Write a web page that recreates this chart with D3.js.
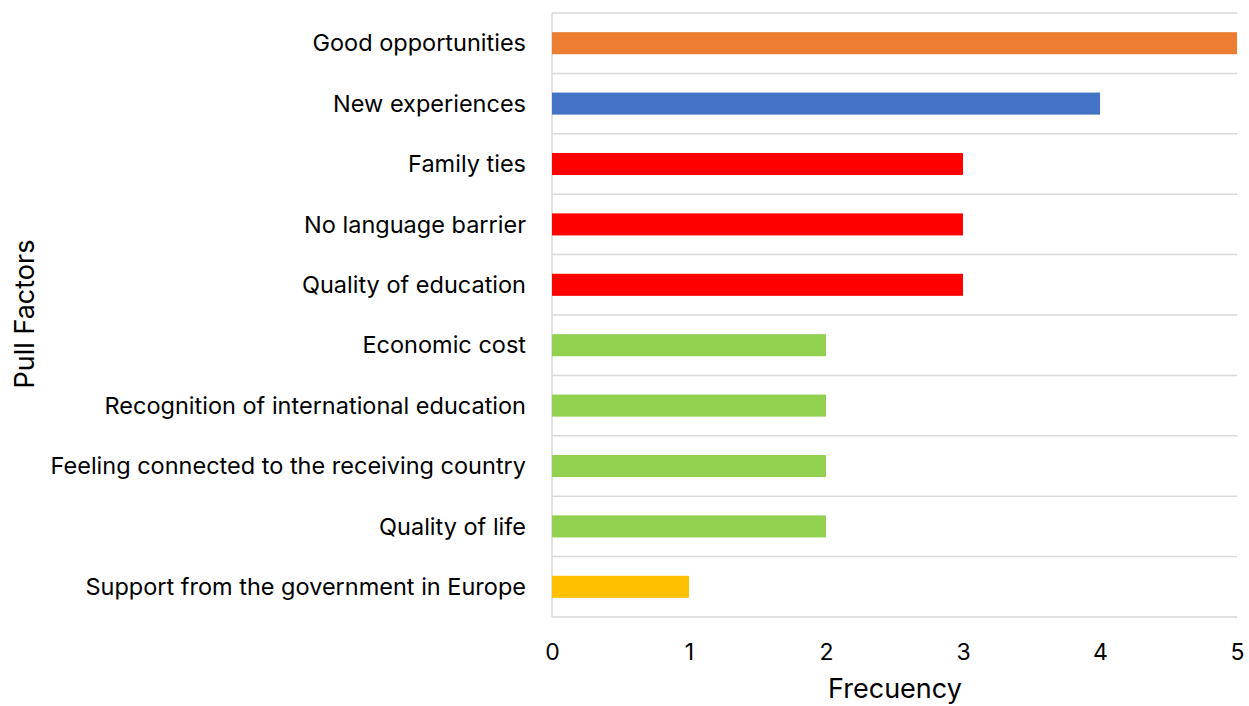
<!DOCTYPE html>
<html><head><meta charset="utf-8">
<script src="https://cdn.jsdelivr.net/npm/d3@7"></script>
<style>body{margin:0;background:#fff}svg{display:block}text{font-family:Inter,"Liberation Sans",Arial,sans-serif;fill:#000}</style>
</head><body>
<svg id="c" width="1249" height="706"></svg>
<script>
const categories = ["Good opportunities","New experiences","Family ties","No language barrier","Quality of education","Economic cost","Recognition of international education","Feeling connected to the receiving country","Quality of life","Support from the government in Europe"];
const values = [5,4,3,3,3,2,2,2,2,1];
const colors = ["#ED7D31","#4472C4","#FF0000","#FF0000","#FF0000","#92D050","#92D050","#92D050","#92D050","#FFC000"];
const xTicks = [0,1,2,3,4,5];

const svg = d3.select("#c");
const m = {l:552, r:1237, t:13, b:617};
const x = d3.scaleLinear().domain([0,5]).range([m.l, m.r]);
const y = d3.scaleBand().domain(categories).range([m.t, m.b]).paddingInner(0.635).paddingOuter(0.3175);

const bounds = d3.range(categories.length+1).map(i => m.t + i*(m.b-m.t)/categories.length);
svg.append("g").selectAll("line").data(bounds).join("line")
  .attr("x1", m.l).attr("x2", m.r).attr("y1", d=>d).attr("y2", d=>d)
  .attr("stroke","#d9d9d9").attr("stroke-width",1.5);
svg.append("line").attr("x1",m.l).attr("x2",m.l).attr("y1",m.t).attr("y2",m.b)
  .attr("stroke","#d9d9d9").attr("stroke-width",1.5);

svg.append("g").selectAll("rect").data(categories).join("rect")
  .attr("x", x(0)).attr("y", d=>y(d)).attr("height", y.bandwidth())
  .attr("width", (d,i)=>x(values[i])-x(0)).attr("fill",(d,i)=>colors[i]);

svg.append("g").selectAll("text").data(categories).join("text")
  .attr("x", 526).attr("y", d=>y(d)+y.bandwidth()/2).attr("dy","0.35em")
  .attr("text-anchor","end").attr("font-size",23.5).text(d=>d);

const xAxis = d3.axisBottom(x).tickValues(xTicks).tickFormat(d3.format("d")).tickSize(0).tickPadding(0);
const gx = svg.append("g").attr("transform",`translate(0,${m.b})`).call(xAxis);
gx.select(".domain").remove();
gx.selectAll("text").attr("font-size",23).attr("y",35).attr("dy","0.35em").style("font-family",'Inter,"Liberation Sans",Arial,sans-serif').attr("fill","#000");

svg.append("text").attr("x",895).attr("y",689).attr("dy","0.35em").attr("text-anchor","middle").attr("font-size",27).text("Frecuency");
svg.append("text").attr("transform","translate(25,314) rotate(-90)").attr("dy","0.35em").attr("text-anchor","middle").attr("font-size",27).text("Pull Factors");
</script>
</body></html>
